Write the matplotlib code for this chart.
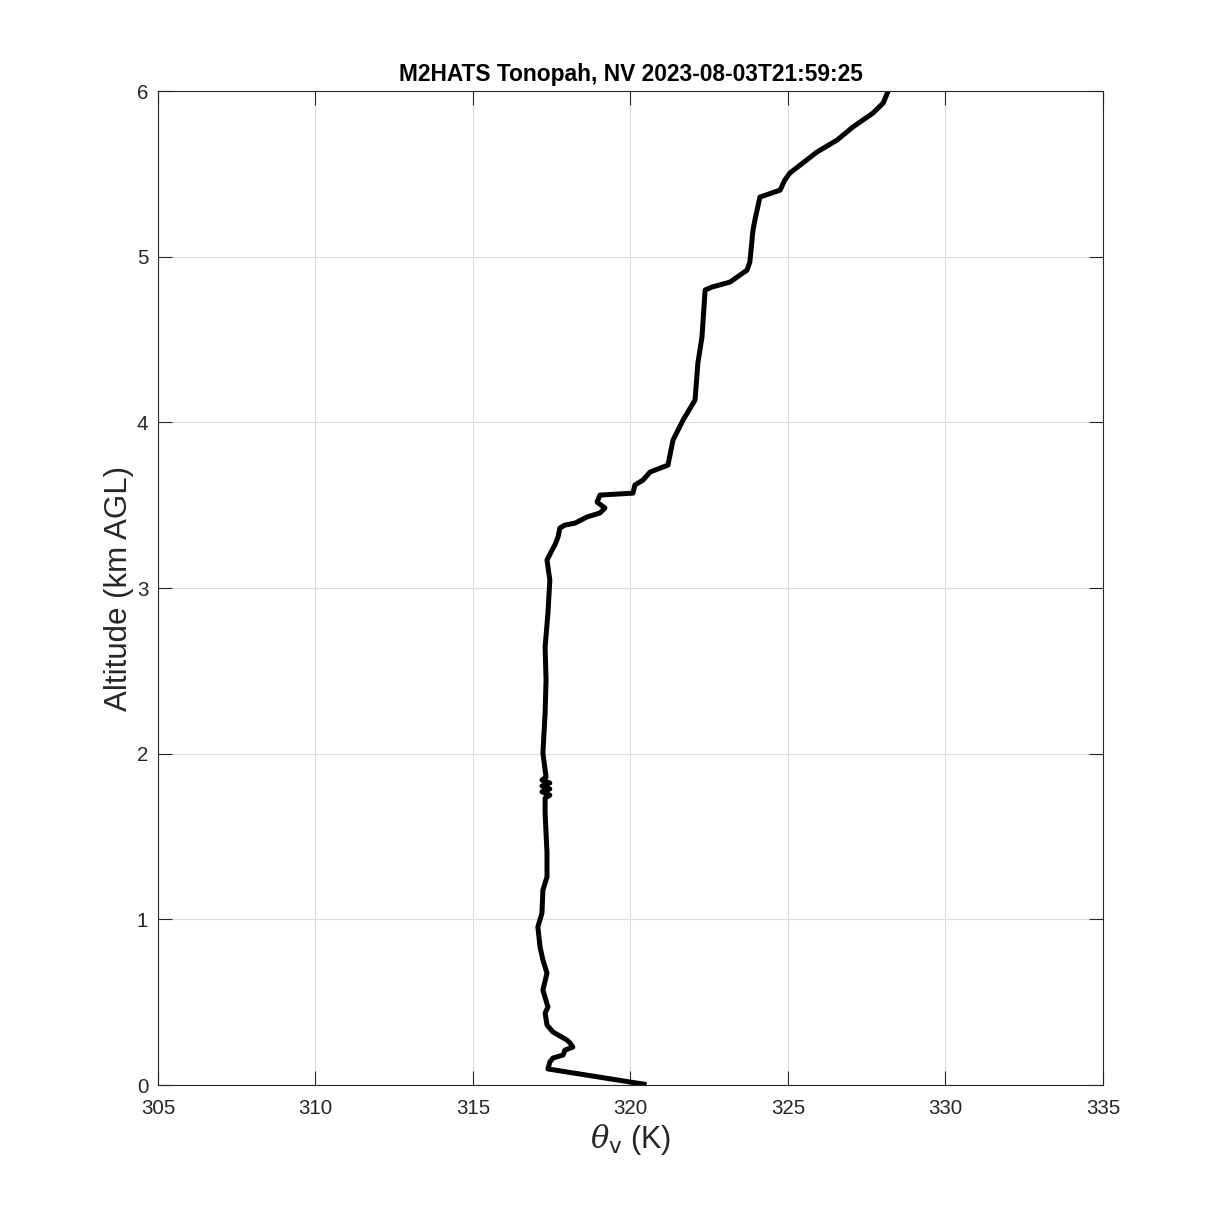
import matplotlib
matplotlib.use("Agg")
import matplotlib.pyplot as plt

plt.rcParams['font.family'] = ['Liberation Sans', 'DejaVu Sans']
plt.rcParams['mathtext.fontset'] = 'dejavuserif'

theta_v = [320.43, 317.38, 317.44, 317.54, 317.86, 317.92, 318.17, 318.08, 317.98,
           317.54, 317.35, 317.29, 317.38, 317.22, 317.35, 317.22, 317.13, 317.06,
           317.19, 317.22, 317.35, 317.35, 317.29,
           317.29, 317.44, 317.19, 317.44, 317.19, 317.44, 317.19, 317.32,
           317.22, 317.29, 317.32, 317.29, 317.38, 317.44, 317.35, 317.51, 317.60,
           317.70, 317.76, 317.92, 318.24, 318.62, 319.03, 319.19, 318.94, 319.03,
           320.08, 320.14, 320.40, 320.62, 321.19, 321.35, 321.67, 322.05, 322.14,
           322.27, 322.37, 322.59, 323.16, 323.70, 323.79, 323.89, 323.95, 324.11,
           324.75, 324.90, 325.06, 325.92, 326.56, 327.06, 327.70, 328.02, 328.17,
           328.21]
alt_km = [0.005, 0.097, 0.139, 0.163, 0.181, 0.211, 0.229, 0.254, 0.272,
          0.320, 0.362, 0.435, 0.471, 0.573, 0.676, 0.755, 0.833, 0.954,
          1.038, 1.177, 1.256, 1.400, 1.642,
          1.732, 1.750, 1.770, 1.787, 1.805, 1.823, 1.841, 1.859,
          2.004, 2.245, 2.445, 2.644, 2.849, 3.048, 3.169, 3.229, 3.260,
          3.308, 3.362, 3.380, 3.392, 3.429, 3.453, 3.483, 3.519, 3.561,
          3.573, 3.622, 3.652, 3.700, 3.742, 3.893, 4.014, 4.135, 4.358,
          4.515, 4.799, 4.817, 4.847, 4.919, 4.968, 5.161, 5.221, 5.360,
          5.402, 5.463, 5.505, 5.632, 5.704, 5.783, 5.867, 5.927, 5.994,
          6.02]

xticks = [305, 310, 315, 320, 325, 330, 335]
yticks = [0, 1, 2, 3, 4, 5, 6]

fig = plt.figure(figsize=(12.19, 12.19), dpi=100)
ax = fig.add_axes([0.1296, 0.1099, 0.9048 - 0.1296, 0.9253 - 0.1099])

ax.plot(theta_v, alt_km, color='black', lw=3.6, solid_joinstyle='round')

ax.set_xlim(305, 335)
ax.set_ylim(0, 6)
ax.set_xticks(xticks)
ax.set_yticks(yticks)
ax.grid(True, color='#dcdcdc', lw=0.8)
ax.set_axisbelow(True)

dark = '#262626'
for s in ax.spines.values():
    s.set_color(dark)
    s.set_linewidth(0.8)
ax.tick_params(direction='in', length=10, width=0.8, colors=dark,
               labelsize=14.8, top=True, right=True, pad=7)
ax.tick_params(axis='x', pad=10)

ax.set_xlabel(r'$\theta_{\mathsf{v}}$ (K)', fontsize=22, color=dark, labelpad=3)
ax.set_ylabel('Altitude (km AGL)', fontsize=22.5, color=dark, labelpad=2)
ax.set_title('M2HATS Tonopah, NV 2023-08-03T21:59:25', fontsize=16.4,
             fontweight='bold', pad=7)

fig.savefig('out.png', dpi=100)
